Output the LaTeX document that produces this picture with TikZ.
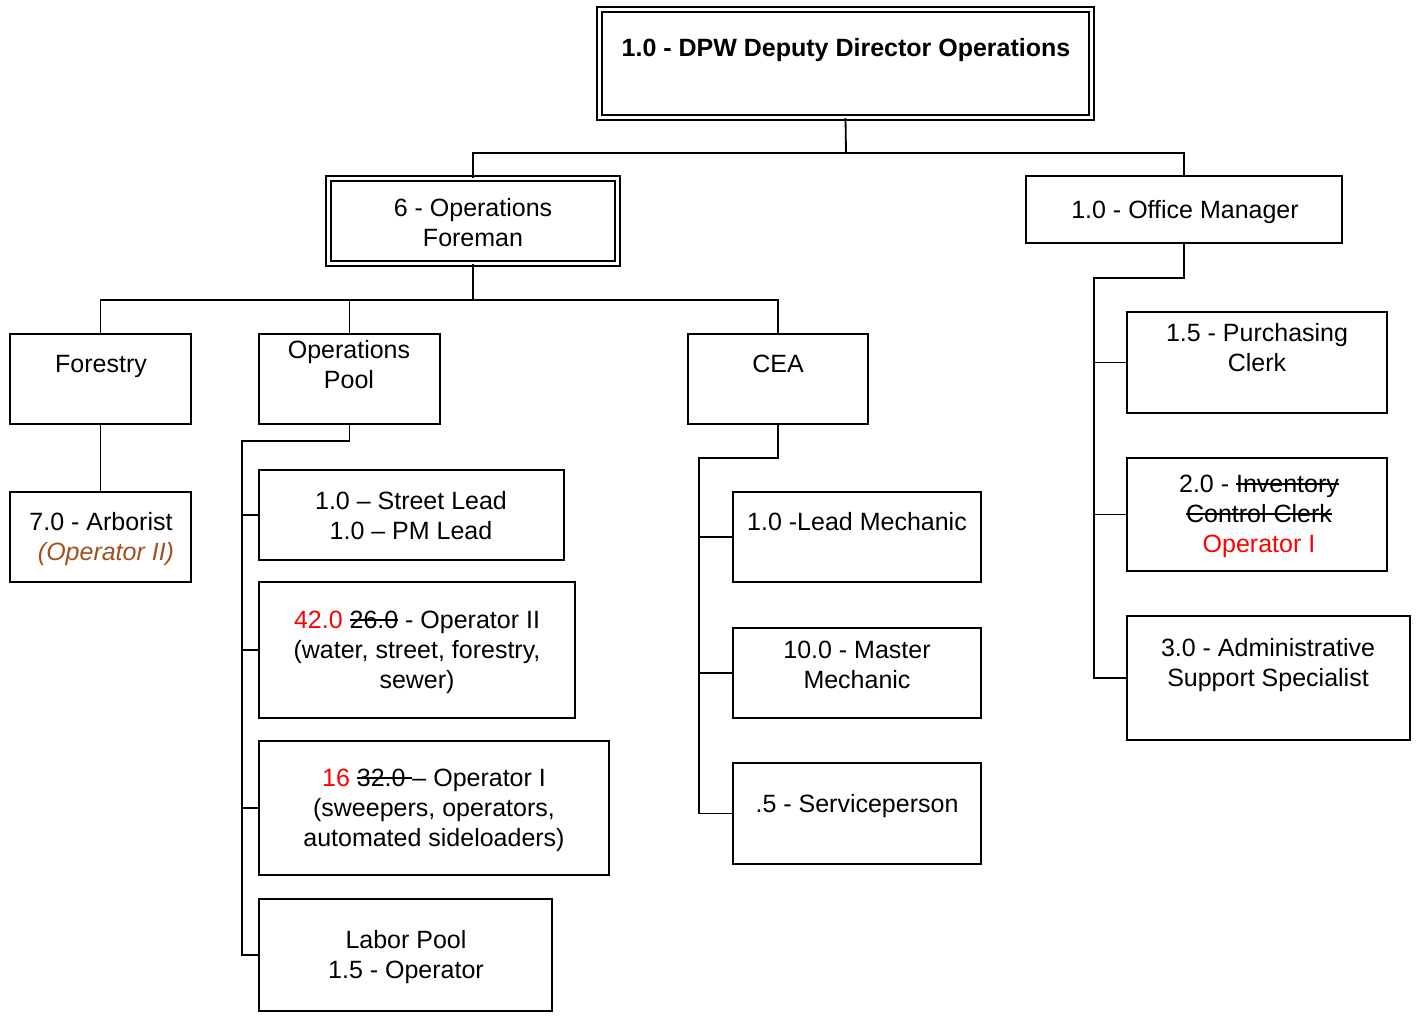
\documentclass[tikz,border=0pt]{standalone}
\usepackage{fontspec}
\setmainfont{Liberation Sans}
\definecolor{brn}{RGB}{160,82,30}
\newcommand\orgbox[6]{\node[#6, minimum width={(#4-#2)*0.5pt}, minimum height={(#5-#3)*0.5pt}] (#1) at ({(#2+#4)/2},{(#3+#5)/2}) {};}
\newcommand\strk[1]{\begingroup\setbox0\hbox{#1}\rlap{\rule[0.3em]{\wd0}{0.07em}}\box0\endgroup}
\begin{document}
\begin{tikzpicture}[x=0.5pt,y=-0.5pt,
  box/.style={draw, line width=0.9pt, inner sep=0pt},
  dbox/.style={draw, double, line width=0.7pt, double distance=1.8pt, inner sep=0pt},
  txt/.style={align=center, inner sep=0pt, font=\fontsize{12.5}{15}\selectfont},
  conn/.style={line width=0.9pt}]
\useasboundingbox (0,0) rectangle (1416,1017);

% boxes
\orgbox{title}{599.5}{9.5}{1091.5}{117.5}{dbox}
\orgbox{foreman}{328.5}{178.5}{617.5}{263.5}{dbox}
\orgbox{office}{1026}{176}{1342}{243}{box}
\orgbox{forestry}{10}{334}{191}{424}{box}
\orgbox{pool}{259}{334}{440}{424}{box}
\orgbox{cea}{688}{334}{868}{424}{box}
\orgbox{arborist}{10}{492}{191}{582}{box}
\orgbox{street}{259}{470}{564}{560}{box}
\orgbox{optwo}{259}{582}{575}{718}{box}
\orgbox{opone}{259}{741}{609}{875}{box}
\orgbox{labor}{259}{899}{552}{1011}{box}
\orgbox{leadmech}{733}{492}{981}{582}{box}
\orgbox{master}{733}{628}{981}{718}{box}
\orgbox{service}{733}{763}{981}{864}{box}
\orgbox{purch}{1127}{312}{1387}{413}{box}
\orgbox{invent}{1127}{458}{1387}{571}{box}
\orgbox{admin}{1127}{616}{1410}{740}{box}

% texts
\node[txt, font=\fontsize{12.5}{15}\selectfont\bfseries] (ttitle) at (846,50) {1.0 - DPW Deputy Director Operations};
\node[txt] (tforeman) at (473,223) {6 - Operations\\Foreman};
\node[txt] (toffice) at (1185,212) {1.0 - Office Manager};
\node[txt] (tforestry) at (101,366) {Forestry};
\node[txt] (tpool) at (349,365) {Operations\\Pool};
\node[txt] (tcea) at (778,364) {CEA};
\node[txt] (tarborist) at (101,539) {7.0 - Arborist\\\hspace*{5pt}{\color{brn}\itshape (Operator II)}};
\node[txt] (tstreet) at (411,516) {1.0 -- Street Lead\\1.0 -- PM Lead};
\node[txt] (toptwo) at (417,652) {{\color{red}42.0} \strk{26.0} - Operator II\\(water, street, forestry,\\sewer)};
\node[txt] (topone) at (434,810) {{\color{red}16} \strk{32.0 }-- Operator I\\(sweepers, operators,\\automated sideloaders)};
\node[txt] (tlabor) at (406,957) {Labor Pool\\1.5 - Operator};
\node[txt] (tleadmech) at (857,522) {1.0 -Lead Mechanic};
\node[txt] (tmaster) at (857,665) {10.0 - Master\\Mechanic};
\node[txt] (tservice) at (857,806) {.5 - Serviceperson};
\node[txt] (tpurch) at (1257,348) {1.5 - Purchasing\\Clerk};
\node[txt] (tinvent) at (1259,516) {2.0 - \strk{Inventory}\\\strk{Control Clerk}\\{\color{red}Operator I}};
\node[txt] (tadmin) at (1268,665) {3.0 - Administrative\\Support Specialist};

% junctions
\coordinate (j1) at (846,153);
\coordinate (j2) at (473,300);
\coordinate (pj) at (242,441);
\coordinate (cj) at (699,458);
\coordinate (oj) at (1094,278);

% connectors
\draw[conn] (title.south) -- (j1);
\draw[conn] (foreman.north) |- (j1) -| (office.north);
\draw[conn] (foreman.south) -- (j2);
\draw[conn] (forestry.north) |- (cea.north |- j2) -- (cea.north);
\draw[conn] (pool.north) -- (pool.north |- j2);
\draw[conn] (forestry.south) -- (arborist.north);
\draw[conn] (pool.south) |- (pj) |- (labor.west);
\draw[conn] (pj |- street.west) -- (street.west);
\draw[conn] (pj |- optwo.west) -- (optwo.west);
\draw[conn] (pj |- opone.west) -- (opone.west);
\draw[conn] (cea.south) |- (cj) |- (service.west);
\draw[conn] (cj |- leadmech.west) -- (leadmech.west);
\draw[conn] (cj |- master.west) -- (master.west);
\draw[conn] (office.south) |- (oj) |- (admin.west);
\draw[conn] (oj |- purch.west) -- (purch.west);
\draw[conn] (oj |- invent.west) -- (invent.west);
\end{tikzpicture}
\end{document}
